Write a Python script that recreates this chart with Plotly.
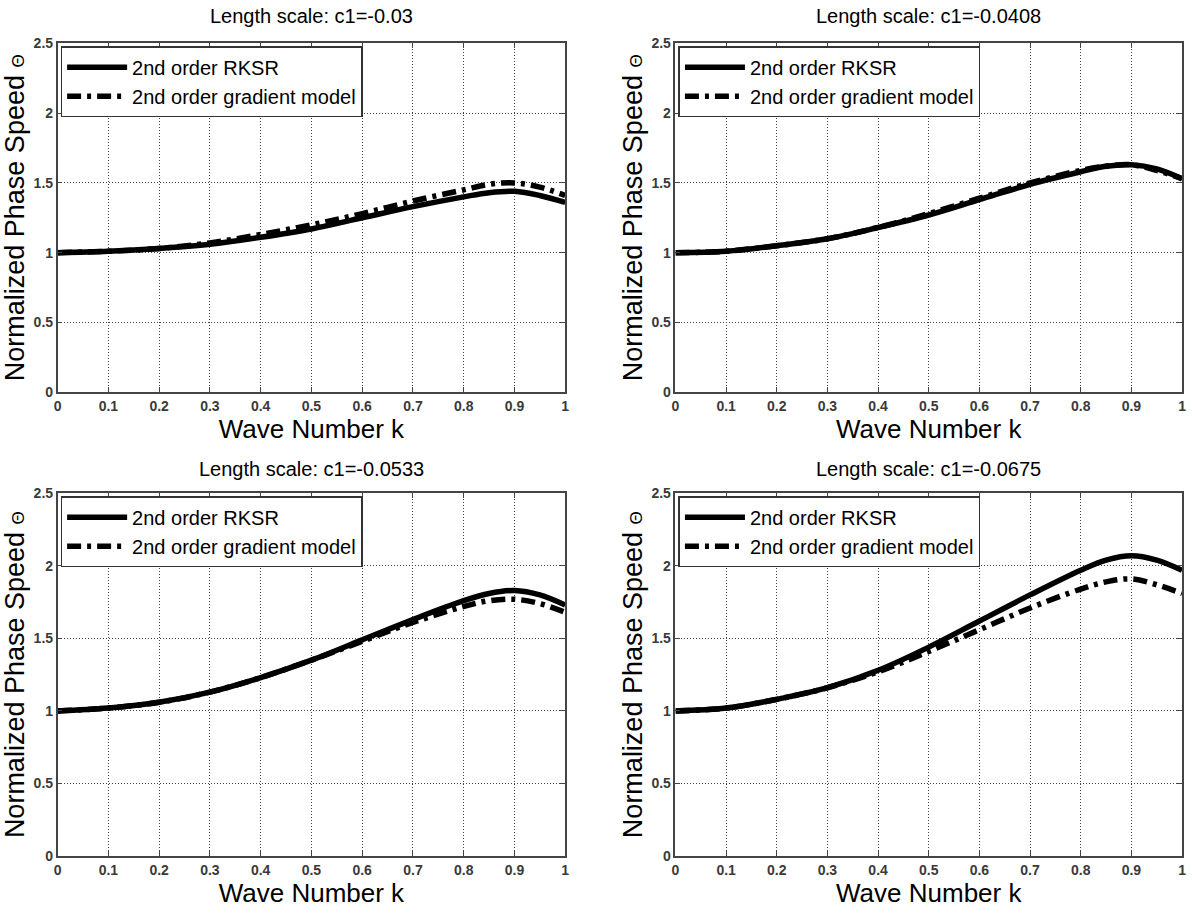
import plotly.graph_objects as go

# Wave number samples shared by every panel
k = [0.0, 0.1, 0.2, 0.3, 0.4, 0.5, 0.6, 0.7, 0.8, 0.85, 0.9, 0.95, 1.0]

# Panel titles (length-scale parameter c1)
titles = ["Length scale: c1=-0.03", "Length scale: c1=-0.0408",
          "Length scale: c1=-0.0533", "Length scale: c1=-0.0675"]

# Normalized phase speed, 2nd order RKSR
rksr_003 = [1.00, 1.01, 1.03, 1.06, 1.11, 1.17, 1.25, 1.33, 1.40, 1.43, 1.44, 1.41, 1.36]
rksr_0408 = [1.00, 1.01, 1.05, 1.10, 1.18, 1.27, 1.38, 1.49, 1.58, 1.62, 1.63, 1.60, 1.53]
rksr_0533 = [1.00, 1.02, 1.06, 1.13, 1.23, 1.35, 1.49, 1.63, 1.76, 1.81, 1.83, 1.80, 1.73]
rksr_0675 = [1.00, 1.02, 1.08, 1.16, 1.28, 1.44, 1.62, 1.80, 1.97, 2.04, 2.07, 2.04, 1.97]

# Normalized phase speed, 2nd order gradient model
grad_003 = [1.00, 1.01, 1.03, 1.07, 1.13, 1.20, 1.28, 1.37, 1.45, 1.49, 1.50, 1.47, 1.41]
grad_0408 = [1.00, 1.01, 1.05, 1.10, 1.18, 1.28, 1.39, 1.50, 1.59, 1.62, 1.63, 1.59, 1.53]
grad_0533 = [1.00, 1.02, 1.06, 1.13, 1.23, 1.35, 1.48, 1.61, 1.72, 1.76, 1.77, 1.74, 1.68]
grad_0675 = [1.00, 1.02, 1.08, 1.16, 1.27, 1.41, 1.56, 1.71, 1.84, 1.89, 1.91, 1.87, 1.81]

rksr = [rksr_003, rksr_0408, rksr_0533, rksr_0675]
grad = [grad_003, grad_0408, grad_0533, grad_0675]

x_ticks = [0, 0.1, 0.2, 0.3, 0.4, 0.5, 0.6, 0.7, 0.8, 0.9, 1]
x_tick_text = ["0", "0.1", "0.2", "0.3", "0.4", "0.5", "0.6", "0.7", "0.8", "0.9", "1"]
y_ticks = [0, 0.5, 1, 1.5, 2, 2.5]
y_tick_text = ["0", "0.5", "1", "1.5", "2", "2.5"]

W, H = 1192, 918
# Pixel boxes of the four axes: (left, right, top, bottom)
boxes = [(54, 565, 36, 391), (676, 1186, 36, 391),
         (54, 565, 494, 863), (676, 1186, 494, 863)]
# Gap between each axes top and its title
title_gap = [15, 15, 12, 12]

FONT = "Liberation Sans, Arial, sans-serif"
fig = go.Figure()
layout = dict(width=W, height=H, margin=dict(l=0, r=0, t=0, b=0),
              paper_bgcolor="white", plot_bgcolor="white", showlegend=True,
              font=dict(family=FONT, color="black"))
annotations = []

for i in range(4):
    sfx = "" if i == 0 else str(i + 1)
    left, right, top, bottom = boxes[i]
    xd = [left / W, right / W]
    yd = [1 - bottom / H, 1 - top / H]
    leg = "legend" + sfx
    fig.add_trace(go.Scatter(x=k, y=rksr[i], mode="lines", name="2nd order RKSR",
                             line=dict(color="black", width=5.5, shape="spline"),
                             xaxis="x" + sfx, yaxis="y" + sfx, legend=leg))
    fig.add_trace(go.Scatter(x=k, y=grad[i], mode="lines", name="2nd order gradient model",
                             line=dict(color="black", width=5.5, shape="spline",
                                       dash="14px,6px,4px,6px"),
                             xaxis="x" + sfx, yaxis="y" + sfx, legend=leg))
    axcommon = dict(showline=True, linecolor="#444", linewidth=1.5, mirror="allticks",
                    ticks="inside", ticklen=5, tickcolor="#444", showgrid=True,
                    gridcolor="#444", griddash="1px,2px", gridwidth=1, zeroline=False,
                    tickfont=dict(family=FONT, size=14, color="#3a3a3a", weight="bold"))
    layout["xaxis" + sfx] = dict(axcommon, domain=xd, range=[0, 1], anchor="y" + sfx,
                                 tickvals=x_ticks, ticktext=x_tick_text,
                                 title=dict(text="Wave Number k", standoff=0,
                                            font=dict(family=FONT, size=26)))
    layout["yaxis" + sfx] = dict(axcommon, domain=yd, range=[0, 2.5], anchor="x" + sfx,
                                 tickvals=y_ticks, ticktext=y_tick_text,
                                 title=dict(text="Normalized Phase Speed <span style='font-size:17px'>Θ</span>",
                                            standoff=1, font=dict(family=FONT, size=27)))
    layout[leg] = dict(x=xd[0] + 3 / W, y=yd[1] - 3 / H, xanchor="left", yanchor="top",
                       bgcolor="white", bordercolor="#333", borderwidth=1.5,
                       font=dict(family=FONT, size=20), itemwidth=60,
                       tracegroupgap=4)
    annotations.append(dict(text=titles[i], x=(xd[0] + xd[1]) / 2,
                            y=yd[1] + title_gap[i] / H,
                            xref="paper", yref="paper", xanchor="center", yanchor="bottom",
                            showarrow=False, font=dict(family=FONT, size=20)))

layout["annotations"] = annotations
fig.update_layout(**layout)
fig.write_html("out.html")
